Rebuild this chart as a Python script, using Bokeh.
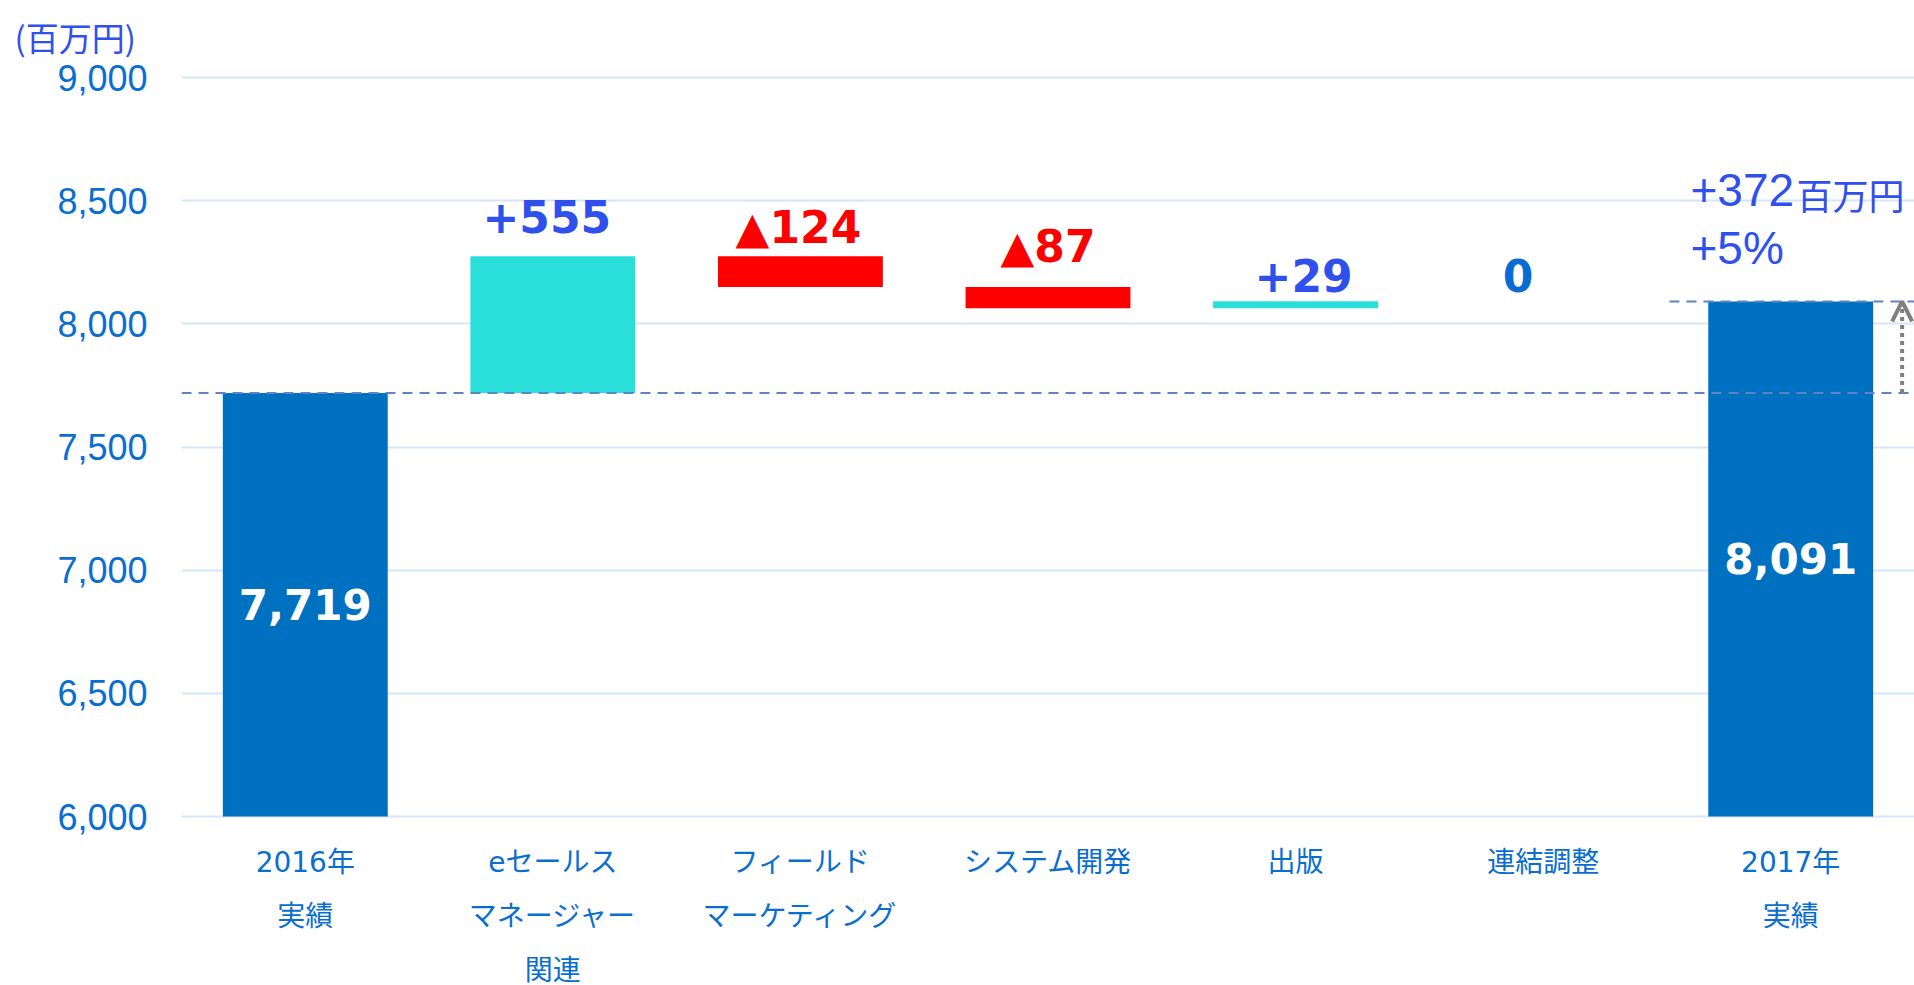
from bokeh.plotting import figure
from bokeh.models import (Range1d, FixedTicker, NumeralTickFormatter, ColumnDataSource,
                          Span, Arrow, OpenHead)
from bokeh.core.properties import value
from bokeh.embed import file_html
from bokeh.resources import INLINE

# ---------------- data ----------------
categories = ["2016年\n実績", "eセールス\nマネージャー\n関連", "フィールド\nマーケティング",
              "システム開発", "出版", "連結調整", "2017年\n実績"]
start_total = 7719
deltas = [555, -124, -87, 29, 0]
end_total = 8091
y_ticks = [6000, 6500, 7000, 7500, 8000, 8500, 9000]
unit_label = "(百万円)"
unit_suffix = "百万円"

# ---------------- styles / layout ----------------
C_TOTAL = "#0070C0"
C_UP = "#2ADFDA"
C_DOWN = "#FF0000"
C_BLUE_TXT = "#3050EE"
C_AXIS_TXT = "#0A6ED1"
C_ZERO_TXT = "#0A6BD2"
GRID = "#D6E6F7"
CAT_FONT = "DejaVu Sans, Noto Sans CJK JP"
BOLD = "DejaVu Sans, Noto Sans CJK JP"
W, H = 1914, 985
FRAME_LEFT, FRAME_TOP = 181, 75
TOP_TICK_PX, AXIS_BOTTOM_PX = 77, 816
BASELINE_FIX = 0.37                          # em shift of rendered alphabetic baseline
delta_label_px = [24, 13, 24, 9, 9]          # baseline distance above bar top (px)
delta_label_dx_px = [-6, -2, 0, 8, -25]      # horizontal nudge (px)
cat_line_px = [56, 110, 164]                 # baselines below the 6000 line (px)
DELTA_FS, TOTAL_FS, CAT_FS, ANN_FS, ANN_CJK_FS = 44, 42, 28, 46, 36

n = len(categories)
xs = [i + 0.5 for i in range(n)]
X_END = float(n)
px_per_x = (W - FRAME_LEFT) / X_END
px_per_y = (AXIS_BOTTOM_PX - TOP_TICK_PX) / (y_ticks[-1] - y_ticks[0])
y_lo = y_ticks[0] - (H - AXIS_BOTTOM_PX) / px_per_y
y_hi = y_ticks[-1] + (TOP_TICK_PX - FRAME_TOP) / px_per_y


def y_at(px_from_top, fs=0):
    """data y for a page pixel row, with the text-baseline correction"""
    return y_ticks[0] + (AXIS_BOTTOM_PX - px_from_top + BASELINE_FIX * fs) / px_per_y


p = figure(width=W, height=H, output_backend="svg", toolbar_location=None,
           x_range=Range1d(0, X_END), y_range=Range1d(y_lo, y_hi),
           x_axis_location=None, min_border_left=FRAME_LEFT, min_border_right=0,
           min_border_top=FRAME_TOP, min_border_bottom=0)
p.outline_line_color = None
p.background_fill_color = "white"
p.border_fill_color = "white"

p.title.text = unit_label
p.title.align = "left"
p.title.vertical_align = "top"
p.title.offset = -167
p.title.standoff = 25
p.title.text_font = "Noto Sans CJK JP"
p.title.text_font_size = "33px"
p.title.text_font_style = "normal"
p.title.text_color = C_BLUE_TXT

p.xgrid.visible = False
p.ygrid.grid_line_color = GRID
p.ygrid.grid_line_width = 2
p.ygrid.ticker = FixedTicker(ticks=y_ticks)

ya = p.yaxis[0]
ya.ticker = FixedTicker(ticks=y_ticks)
ya.formatter = NumeralTickFormatter(format="0,0")
ya.axis_line_color = None
ya.major_tick_line_color = None
ya.minor_tick_line_color = None
ya.major_tick_out = 0
ya.major_tick_in = 0
ya.major_label_standoff = 34
ya.major_label_text_font = "Liberation Sans"
ya.major_label_text_font_size = "36px"
ya.major_label_text_color = C_AXIS_TXT

# ---------------- waterfall geometry ----------------
base = y_ticks[0]
bottoms, tops, colors = [base], [start_total], [C_TOTAL]
running = start_total
for d in deltas:
    bottoms.append(min(running, running + d))
    tops.append(max(running, running + d))
    colors.append(C_UP if d >= 0 else C_DOWN)
    running += d
bottoms.append(base); tops.append(end_total); colors.append(C_TOTAL)

bar_idx = [i for i in range(n) if tops[i] - bottoms[i] > 0]
bars = ColumnDataSource(dict(x=[xs[i] for i in bar_idx], bottom=[bottoms[i] for i in bar_idx],
                             top=[tops[i] for i in bar_idx], color=[colors[i] for i in bar_idx]))
p.vbar(x="x", bottom="bottom", top="top", width=0.666, fill_color="color",
       line_color=None, source=bars)

# reference dashed lines
p.add_layout(Span(location=start_total, dimension="width", line_color="#5F84C4",
                  line_width=2, line_dash="10 7"))
p.segment(x0=[n - 1 + 0.01], x1=[X_END], y0=[end_total], y1=[end_total],
          line_color="#5F84C4", line_width=2, line_dash="10 7")

# arrow
p.add_layout(Arrow(end=OpenHead(size=20, line_color="#7F7F7F", line_width=4),
                   x_start=n - 0.05, y_start=start_total, x_end=n - 0.05, y_end=end_total,
                   line_color="#7F7F7F", line_width=4, line_dash="4 4"))

# ---------------- value labels ----------------
tot_src = ColumnDataSource(dict(x=[xs[0], xs[-1]],
                                y=[(base + start_total) / 2, (base + end_total) / 2],
                                text=[f"{start_total:,}", f"{end_total:,}"]))
p.text(x="x", y="y", text="text", source=tot_src, text_align="center",
       text_baseline="middle", text_color="white", text_font=value(BOLD),
       text_font_style="bold", text_font_size=f"{TOTAL_FS}px")

dl_x, dl_y, dl_t, dl_c = [], [], [], []
for k, d in enumerate(deltas):
    i = k + 1
    dl_x.append(xs[i] + delta_label_dx_px[k] / px_per_x)
    dl_y.append(tops[i] + (delta_label_px[k] + BASELINE_FIX * DELTA_FS) / px_per_y)
    dl_t.append(f"+{d}" if d > 0 else (f"▲{-d}" if d < 0 else "0"))
    dl_c.append(C_BLUE_TXT if d > 0 else (C_DOWN if d < 0 else C_ZERO_TXT))
dsrc = ColumnDataSource(dict(x=dl_x, y=dl_y, text=dl_t, color=dl_c))
p.text(x="x", y="y", text="text", source=dsrc, text_align="center",
       text_baseline="alphabetic", text_color="color", text_font=value(BOLD),
       text_font_style="bold", text_font_size=f"{DELTA_FS}px")

diff = end_total - start_total
pct = round(diff / start_total * 100)
ann_x = (1690 - FRAME_LEFT) / px_per_x
ann_x2 = (1796 - FRAME_LEFT) / px_per_x
p.text(x=[ann_x, ann_x], y=[y_at(207, ANN_FS), y_at(265, ANN_FS)],
       text=[f"+{diff}", f"+{pct}%"], text_align="left", text_baseline="alphabetic",
       text_color=C_BLUE_TXT, text_font=value("Liberation Sans"),
       text_font_size=f"{ANN_FS}px")
p.text(x=[ann_x2], y=[y_at(207, ANN_CJK_FS)], text=[unit_suffix], text_align="left",
       text_baseline="alphabetic", text_color=C_BLUE_TXT,
       text_font=value("Noto Sans CJK JP"), text_font_size=f"{ANN_CJK_FS}px")

# ---------------- category labels (multi-line) ----------------
split = [c.split("\n") for c in categories]
for k, dy in enumerate(cat_line_px):
    idx = [i for i in range(n) if len(split[i]) > k]
    src = ColumnDataSource(dict(x=[xs[i] for i in idx],
                                y=[y_at(AXIS_BOTTOM_PX + dy, CAT_FS)] * len(idx),
                                text=[split[i][k] for i in idx]))
    p.text(x="x", y="y", text="text", source=src, text_align="center",
           text_baseline="alphabetic", text_color=C_AXIS_TXT, text_font=value(CAT_FONT),
           text_font_size=f"{CAT_FS}px")

open("out.html", "w").write(file_html(p, INLINE))
